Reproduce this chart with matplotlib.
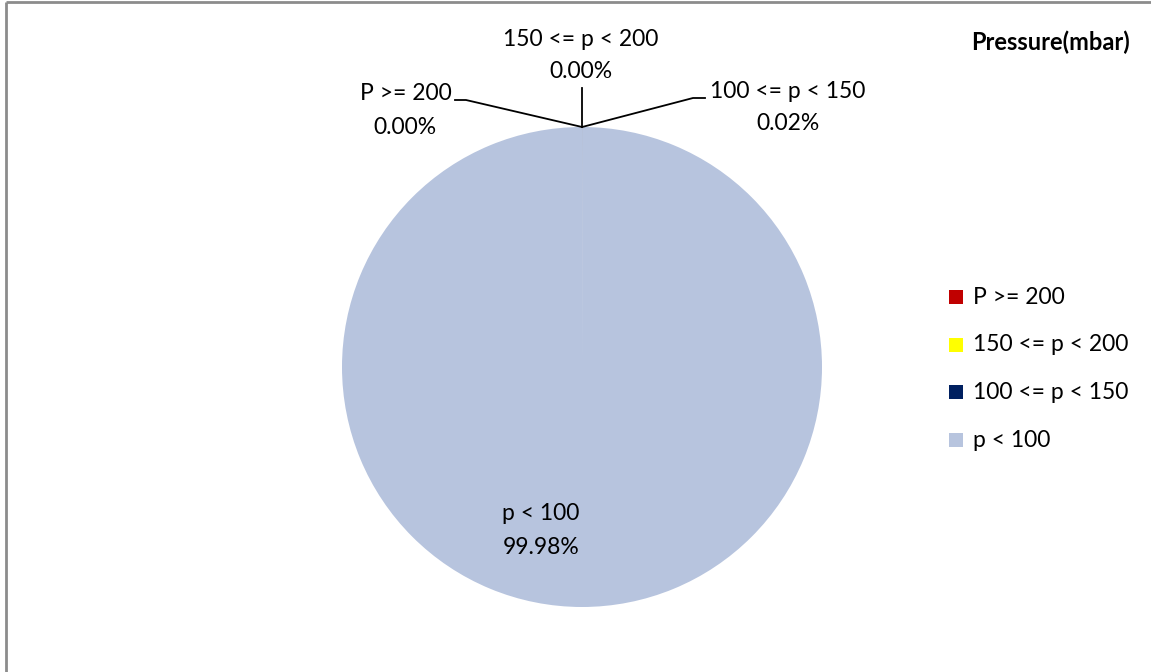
import numpy as np
import matplotlib.pyplot as plt

# pressure distribution (mbar)
labels = ['P >= 200', '150 <= p < 200', '100 <= p < 150', 'p < 100']
shares = [0.00, 0.00, 0.02, 99.98]
colors = ['#C00000', '#FFFF00', '#002060', '#B7C4DE']

W, H = 1151, 672
plt.rcParams['font.family'] = ['Lato', 'DejaVu Sans']
fig = plt.figure(figsize=(W / 100, H / 100), dpi=100)

# pie axes, placed in pixels: centre (582, 367), radius 240
cx, cy, r = 582, 367, 240
ax = fig.add_axes([(cx - r) / W, (H - cy - r) / H, 2 * r / W, 2 * r / H])
wedges, _ = ax.pie(shares, colors=colors, startangle=90, counterclock=False,
                   radius=1, wedgeprops=dict(linewidth=0))
ax.set_xlim(-1, 1)
ax.set_ylim(-1, 1)
ax.set_aspect('equal')
ax.axis('off')

# overlay in pixel coords for labels, leaders, border
ov = fig.add_axes([0, 0, 1, 1], zorder=3)
ov.set_xlim(0, W)
ov.set_ylim(H, 0)
ov.axis('off')
ov.patch.set_alpha(0)

def edge_point(w):
    ang = np.deg2rad((w.theta1 + w.theta2) / 2)
    return cx + r * np.cos(ang), cy - r * np.sin(ang)

fs = 16.5
# leader lines and outside labels for the small slices
elbows = [[(466, 100), (455, 100)], [(582, 88)], [(693, 98), (705, 98)]]
for w, pts in zip(wedges[:3], elbows):
    x0, y0 = edge_point(w)
    xs = [x0] + [p[0] for p in pts]
    ys = [y0] + [p[1] for p in pts]
    ov.plot(xs, ys, color='black', lw=1.3)

ov.text(452, 93, labels[0], ha='right', va='center', fontsize=fs)
ov.text(405, 128, f'{shares[0]:.2f}%', ha='center', va='center', fontsize=fs)
ov.text(581, 40, labels[1], ha='center', va='center', fontsize=fs)
ov.text(581, 71, f'{shares[1]:.2f}%', ha='center', va='center', fontsize=fs)
ov.text(710, 91, labels[2], ha='left', va='center', fontsize=fs)
ov.text(788, 123, f'{shares[2]:.2f}%', ha='center', va='center', fontsize=fs)
ov.text(541, 514, labels[3], ha='center', va='center', fontsize=fs)
ov.text(541, 547, f'{shares[3]:.2f}%', ha='center', va='center', fontsize=fs)

# title
ov.text(1130, 42, 'Pressure(mbar)', ha='right', va='center', fontsize=fs + 0.5,
        fontweight='bold')

# legend
for i, (lab, col) in enumerate(zip(labels, colors)):
    y = 297 + i * 47.7
    ov.add_patch(plt.Rectangle((949, y - 7), 14, 14, color=col, lw=0))
    ov.text(973, y, lab, ha='left', va='center', fontsize=fs)

# chart frame (only top and left visible)
ov.plot([6, 6], [H, 2], color='#8c8c8c', lw=2, solid_capstyle='butt')
ov.plot([6, W], [2, 2], color='#8c8c8c', lw=2, solid_capstyle='butt')

fig.savefig('out.png', dpi=100)
